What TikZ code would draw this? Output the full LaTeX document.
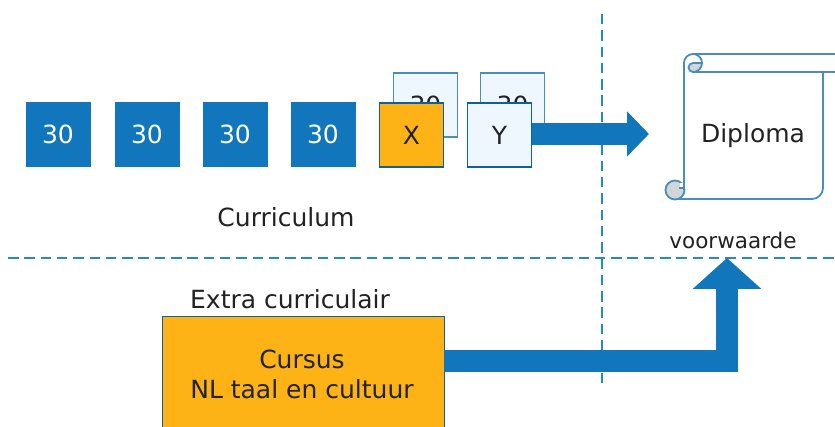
\documentclass[tikz,border=0pt]{standalone}
\usepackage{fontspec}
\setmainfont{DejaVu Sans}
\usetikzlibrary{arrows.meta}
\definecolor{bblue}{HTML}{1176BC}
\definecolor{dblue}{HTML}{0F5F98}
\definecolor{lblue}{HTML}{EEF7FD}
\definecolor{eblue}{HTML}{4A8DB8}
\definecolor{orng}{HTML}{FDB215}
\definecolor{txt}{HTML}{222222}
\definecolor{dash}{HTML}{2389C9}
\definecolor{curl}{HTML}{D2D6DA}
\tikzset{
 x=1pt,y=1pt,
 box/.style={minimum width=64pt,minimum height=64pt,inner sep=0pt,font=\fontsize{25}{30}\selectfont},
 bluebox/.style={box,fill=bblue,draw=bblue,text=white},
 backbox/.style={box,fill=lblue,draw=eblue,line width=1.4pt,text=txt},
 ybox/.style={box,fill=lblue,draw=dblue,line width=1.8pt,text=txt},
 xbox/.style={box,fill=orng,draw=dblue,line width=1.8pt,text=txt},
 lbl/.style={text=txt,inner sep=0pt,font=\fontsize{25}{30}\selectfont,align=center},
 dashline/.style={draw=dash,line width=2.6pt,dash pattern=on 10.5pt off 5.8pt},
 fat/.style={draw=bblue,line width=22pt,line join=miter,-{Triangle[length=22pt,width=44pt]}},
 fatup/.style={draw=bblue,line width=22pt,line join=miter,-{Triangle[length=31pt,width=67pt]}},
 scroll/.style={draw=eblue,line width=1.8pt,line join=round},
}
\begin{document}
\begin{tikzpicture}
\useasboundingbox (0,0) rectangle (835,-427);
% dashed guides
\coordinate (vt) at (602,-14); \coordinate (vb) at (602,-386);
\coordinate (hl) at (8,-258); \coordinate (hr) at (835,-258);
\draw[dashline] (vt) -- (vb);
\draw[dashline] (hl) -- (hr);
% boxes
\node[bluebox] (a) at (58,-134) {30};
\node[bluebox] (b) at (147,-134) {30};
\node[bluebox] (c) at (235,-134) {30};
\node[bluebox] (d) at (323,-134) {30};
\node[backbox] (e) at (425.5,-105) {30};
\node[backbox] (f) at (512.5,-105) {30};
\node[xbox] (x) at (411.5,-135) {X};
\node[ybox] (y) at (499.5,-135) {Y};
% arrows
\coordinate (tip1) at (649,-134);
\draw[fat] (y.east |- tip1) -- (tip1);
\node[box,fill=orng,draw=dblue,line width=1pt,minimum width=282pt,minimum height=120pt,anchor=north west] (cursus) at (162,-316) {};
\node[lbl] (cursustext) at (302,-374) {Cursus\\NL taal en cultuur};
\coordinate (tip2) at (727,-258);
\coordinate (st2) at (444,-361.5);
\draw[fatup] (st2) -| (tip2);
% scroll
\draw[scroll] (684,-190) -- (684,-63) arc[start angle=180,end angle=90,radius=9] -- (835,-54);
\draw[scroll] (693,-72) -- (835,-72);
\draw[scroll,fill=curl] (693,-72) arc[start angle=-90,end angle=-270,radius=4.5] -- (702,-63) arc[start angle=0,end angle=-90,radius=9] -- cycle;
\draw[scroll] (702,-63) arc[start angle=0,end angle=90,radius=9];
\draw[scroll] (823,-72) -- (823,-188) arc[start angle=0,end angle=-90,radius=11] -- (675,-199);
\draw[scroll,fill=curl] (675,-190) circle[radius=9.5];
\draw[fill=white,draw=none] (680,-183) rectangle (683,-188);
\draw[scroll,line width=1.2pt] (679,-188) -- (684,-188);
\draw[scroll] (684,-181) -- (684,-190);
% labels
\node[lbl] (diploma) at (753,-136) {Diploma};
\node[lbl,font=\fontsize{21.5}{26}\selectfont] (voor) at (733,-240) {voorwaarde};
\node[lbl] (curr) at (286,-217) {Curriculum};
\node[lbl] (extra) at (290,-299) {Extra curriculair};
\end{tikzpicture}
\end{document}
